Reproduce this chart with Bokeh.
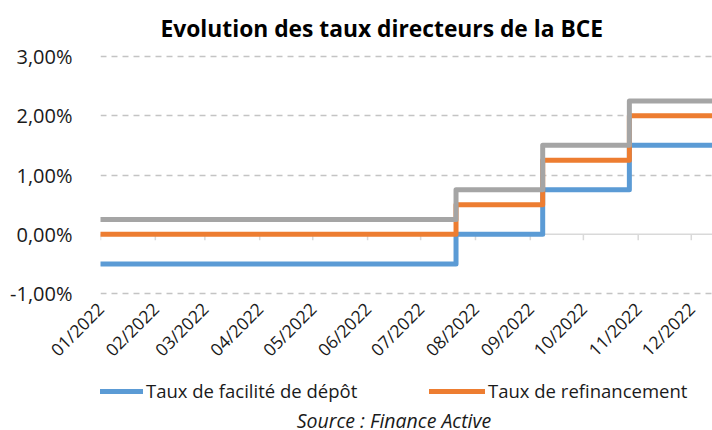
from datetime import datetime
from math import pi

from bokeh.plotting import figure
from bokeh.layouts import column
from bokeh.models import (ColumnDataSource, Range1d, FixedTicker, Span,
                          DatetimeTickFormatter, Legend, LegendItem, Title, Label)
from bokeh.embed import file_html
from bokeh.resources import INLINE

# ---- data ----
change_dates = [datetime(2022, 1, 1), datetime(2022, 7, 21), datetime(2022, 9, 8),
                datetime(2022, 10, 27), datetime(2022, 12, 31)]
depot = [-0.50, 0.00, 0.75, 1.50, 1.50]          # Taux de facilité de dépôt
refinancement = [0.00, 0.50, 1.25, 2.00, 2.00]   # Taux de refinancement
pret_marginal = [0.25, 0.75, 1.50, 2.25, 2.25]   # Taux de prêt marginal

month_ticks = [datetime(2022, m, 1) for m in range(1, 13)]
y_ticks = [-1, 0, 1, 2, 3]
y_tick_labels = ["-1,00%", "0,00%", "1,00%", "2,00%", "3,00%"]

title_text = "Evolution des taux directeurs de la BCE"
source_text = "Source : Finance Active"
series_names = ["Taux de facilité de dépôt", "Taux de refinancement"]
series_colors = ["#5B9BD5", "#ED7D31", "#A5A5A5"]

FONT = "Open Sans"
TXT = "#1a1a1a"

src = ColumnDataSource(dict(x=change_dates, depot=depot, refi=refinancement, marg=pret_marginal))
tick_src = ColumnDataSource(dict(x=month_ticks, y=[0] * len(month_ticks)))

# ---------------- main chart ----------------
p = figure(width=712, height=374, output_backend="svg", toolbar_location=None,
           x_axis_type="datetime",
           x_range=Range1d(datetime(2022, 1, 1), datetime(2022, 12, 13)),
           y_range=Range1d(-1.05, 3.05),
           min_border_left=100, min_border_right=0, min_border_top=53, min_border_bottom=78)
p.outline_line_color = None
p.background_fill_color = "white"
p.border_fill_color = "white"

ms_ticks = [d.timestamp() * 1000 for d in month_ticks]

# y axis
p.yaxis.ticker = FixedTicker(ticks=y_ticks)
p.yaxis.major_label_overrides = {t: l for t, l in zip(y_ticks, y_tick_labels)}
p.yaxis.axis_line_color = None
p.yaxis.major_tick_line_color = None
p.yaxis.minor_tick_line_color = None
p.yaxis.major_label_standoff = 22
p.yaxis.major_label_text_font = FONT
p.yaxis.major_label_text_font_size = "20px"
p.yaxis.major_label_text_color = TXT

# grid
p.xgrid.visible = False
p.ygrid.ticker = FixedTicker(ticks=[t for t in y_ticks if t != 0])
p.ygrid.grid_line_color = "#c4c4c4"
p.ygrid.grid_line_width = 1.5
p.ygrid.grid_line_dash = "6 5"

# title
p.add_layout(Title(text=title_text, align="left", offset=60, standoff=20,
                   text_font=FONT, text_font_size="22.8px", text_font_style="bold",
                   text_color="#000000"), "above")

# x axis labels (bottom)
xa = p.xaxis[0]
xa.ticker = FixedTicker(ticks=ms_ticks)
fmt = "%m/%Y"
xa.formatter = DatetimeTickFormatter(microseconds=fmt, milliseconds=fmt, seconds=fmt,
                                     minsec=fmt, minutes=fmt, hourmin=fmt, hours=fmt,
                                     days=fmt, months=fmt, years=fmt)
xa.axis_line_color = None
xa.major_tick_line_color = None
xa.minor_tick_line_color = None
xa.major_label_orientation = pi / 4
xa.major_label_standoff = 3
xa.major_label_text_font = FONT
xa.major_label_text_font_size = "17.5px"
xa.major_label_text_color = TXT

# horizontal axis line crossing at 0, with month ticks
p.add_layout(Span(location=0, dimension="width", line_color="#d9d9d9", line_width=1.5,
                  level="underlay"))
p.ray(x="x", y="y", source=tick_src, length=6, length_units="screen", angle=-pi / 2,
      line_color="#d9d9d9", line_width=1.5, level="underlay")

# series
for col, color in zip(["depot", "refi", "marg"], series_colors):
    p.step("x", col, source=src, mode="after", line_color=color,
           line_width=5, line_join="round", line_cap="round")

# ---------------- legend + source strip ----------------
q = figure(width=712, height=56, output_backend="svg", toolbar_location=None,
           x_range=Range1d(0, 1), y_range=Range1d(0, 1),
           x_axis_location=None, y_axis_location=None,
           min_border_left=0, min_border_right=0, min_border_top=0, min_border_bottom=0)
q.outline_line_color = None
q.grid.visible = False
q.background_fill_color = "white"
q.border_fill_color = "white"

# legend samples (series drawn outside the strip's visible range, only their legend shows)
for col, name, color, loc, gw in [("depot", series_names[0], series_colors[0], (0, 27), 43),
                                  ("refi", series_names[1], series_colors[1], (329, 27), 56)]:
    r = q.line("x", col, source=src, line_color=color, line_width=5, line_cap="round")
    q.add_layout(Legend(items=[LegendItem(label=name, renderers=[r])], location=loc,
                        orientation="horizontal", padding=0, margin=0, spacing=0,
                        glyph_width=gw, glyph_height=20, label_height=20, label_standoff=3,
                        label_text_font=FONT, label_text_font_size="18.5px",
                        label_text_color=TXT, border_line_color=None,
                        background_fill_alpha=0), "center")

q.add_layout(Label(x=293.5, y=10, x_units="screen", y_units="screen", text=source_text,
                   text_align="center", text_baseline="alphabetic", text_font=FONT,
                   text_font_size="19.5px", text_font_style="italic", text_color=TXT))

layout = column(p, q, spacing=0)
open("out.html", "w").write(file_html(layout, INLINE))
